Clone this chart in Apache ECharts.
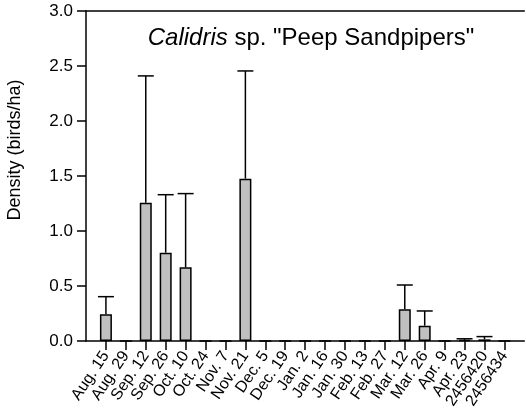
<!DOCTYPE html>
<html>
<head>
<meta charset="utf-8">
<script src="https://cdn.jsdelivr.net/npm/echarts@6/dist/echarts.min.js"></script>
<style>
  html, body { margin: 0; padding: 0; background: #fff; }
  #chart { width: 526px; height: 417px; }
</style>
</head>
<body>
<div id="chart"></div>
<script>
// Survey dates (category labels along the x axis)
const surveyDates = [
  'Aug. 15', 'Aug. 29', 'Sep. 12', 'Sep. 26', 'Oct. 10', 'Oct. 24', 'Nov. 7',
  'Nov. 21', 'Dec. 5', 'Dec. 19', 'Jan. 2', 'Jan. 16', 'Jan. 30', 'Feb. 13',
  'Feb. 27', 'Mar. 12', 'Mar. 26', 'Apr. 9', 'Apr. 23', '2456420', '2456434'
];

// Mean density (birds/ha) per survey
const meanDensity = [
  0.243, 0, 1.257, 0.803, 0.67, 0, 0,
  1.476, 0, 0, 0, 0, 0, 0,
  0, 0.288, 0.139, 0, 0.01, 0.015, 0
];

// Standard error (upper whisker length) per survey
const stdError = [
  0.16, 0, 1.153, 0.527, 0.67, 0, 0,
  0.979, 0, 0, 0, 0, 0, 0,
  0, 0.221, 0.134, 0, 0.01, 0.025, 0
];

// Y axis ticks
const yTicks = { min: 0, max: 3, step: 0.5 };

// Pad the category axis with an empty slot on each end so the
// axis runs from the y axis to the right edge.
const axisCats = [''].concat(surveyDates, ['']);
const barData = [null].concat(meanDensity, [null]);
const errData = surveyDates
  .map((d, i) => [i + 1, meanDensity[i], meanDensity[i] + stdError[i]])
  .filter(r => r[2] > 0);

const FONT = 'Liberation Sans, Arial, Helvetica, sans-serif';

const chart = echarts.init(document.getElementById('chart'), null, { renderer: 'canvas' });

chart.setOption({
  backgroundColor: '#fff',
  animation: false,
  title: {
    text: '{i|Calidris} sp. "Peep Sandpipers"',
    left: 306,
    top: 21,
    textAlign: 'center',
    textStyle: {
      fontFamily: FONT,
      fontSize: 24,
      fontWeight: 'normal',
      color: '#000',
      rich: {
        i: { fontFamily: FONT, fontSize: 24, fontStyle: 'italic', color: '#000' }
      }
    }
  },
  graphic: [
    {
      type: 'text',
      x: 15,
      y: 150,
      rotation: Math.PI / 2,
      style: {
        text: 'Density (birds/ha)',
        fontFamily: FONT,
        fontSize: 18,
        fill: '#000',
        align: 'center',
        verticalAlign: 'middle'
      }
    }
  ],
  grid: { left: 86, right: 0, top: 11, bottom: 76 },
  xAxis: [
    {
      type: 'category',
      data: axisCats,
      boundaryGap: false,
      axisLine: { lineStyle: { color: '#000', width: 1.5 } },
      axisTick: {
        length: 9,
        interval: (idx) => idx > 0 && idx < axisCats.length - 1,
        lineStyle: { color: '#000', width: 1.5 }
      },
      axisLabel: {
        interval: 0,
        rotate: 56,
        margin: 12,
        fontFamily: FONT,
        fontSize: 16,
        color: '#000'
      },
      splitLine: { show: false }
    },
    {
      type: 'category',
      position: 'top',
      data: axisCats,
      boundaryGap: false,
      axisLine: { lineStyle: { color: '#000', width: 1.5 } },
      axisTick: { show: false },
      axisLabel: { show: false },
      splitLine: { show: false }
    }
  ],
  yAxis: {
    type: 'value',
    min: yTicks.min,
    max: yTicks.max,
    interval: yTicks.step,
    axisLine: { show: true, lineStyle: { color: '#000', width: 1.5 } },
    axisTick: { show: true, length: 9, lineStyle: { color: '#000', width: 1.5 } },
    axisLabel: {
      margin: 13,
      fontFamily: FONT,
      fontSize: 17,
      color: '#000',
      formatter: (v) => v.toFixed(1)
    },
    splitLine: { show: false }
  },
  series: [
    {
      type: 'bar',
      data: barData,
      barWidth: 12,
      itemStyle: { color: '#c0c0c0', borderColor: '#000', borderWidth: 1.5 },
      z: 2
    },
    {
      type: 'custom',
      data: errData,
      z: 3,
      renderItem: (params, api) => {
        const x = api.value(0);
        const base = api.coord([x, api.value(1)]);
        const top = api.coord([x, api.value(2)]);
        const half = 8;
        const style = { stroke: '#000', lineWidth: 1.5, fill: null };
        return {
          type: 'group',
          children: [
            { type: 'line', shape: { x1: base[0], y1: base[1], x2: top[0], y2: top[1] }, style },
            { type: 'line', shape: { x1: top[0] - half, y1: top[1], x2: top[0] + half, y2: top[1] }, style }
          ]
        };
      }
    }
  ]
});
</script>
</body>
</html>
